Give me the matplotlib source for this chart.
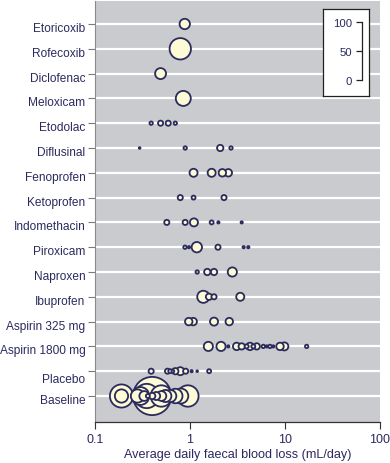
import matplotlib
matplotlib.use("Agg")
import matplotlib.pyplot as plt
from matplotlib.transforms import ScaledTranslation
import numpy as np

plt.rcParams['font.family'] = ['Liberation Sans', 'DejaVu Sans']

categories = ["Etoricoxib", "Rofecoxib", "Diclofenac", "Meloxicam", "Etodolac",
              "Diflusinal", "Fenoprofen", "Ketoprofen", "Indomethacin", "Piroxicam",
              "Naproxen", "Ibuprofen", "Aspirin 325 mg", "Aspirin 1800 mg",
              "Placebo", "Baseline"]

# blood loss (mL/day) per study and patient count (bubble size)
etoricoxib_v = [0.88];                 etoricoxib_n = [21]
rofecoxib_v = [0.79];                  rofecoxib_n = [40]
diclofenac_v = [0.49];                 diclofenac_n = [22]
meloxicam_v = [0.85];                  meloxicam_n = [29]
etodolac_v = [0.39, 0.49, 0.59, 0.70]; etodolac_n = [9, 12, 12, 9]
diflusinal_v = [0.295, 0.89, 2.08, 2.70]; diflusinal_n = [5, 9, 14, 9]
fenoprofen_v = [1.09, 1.69, 2.19, 2.53];  fenoprofen_n = [17, 17, 16, 16]
ketoprofen_v = [0.79, 1.09, 2.28];        ketoprofen_n = [12, 10, 12]
indomethacin_v = [0.57, 0.89, 1.10, 1.69, 1.99, 3.50]
indomethacin_n = [12, 12, 17, 10, 7, 7]
piroxicam_v = [0.885, 0.976, 1.18, 1.97, 3.67, 4.11]
piroxicam_n = [9, 7, 21, 12, 7, 7]
naproxen_v = [1.19, 1.52, 1.79, 2.79];    naproxen_n = [9, 14, 14, 19]
ibuprofen_v = [1.38, 1.585, 1.79, 3.38];  ibuprofen_n = [24, 14, 12, 17]
aspirin325_v = [0.97, 1.08, 1.79, 2.59];  aspirin325_n = [16, 16, 17, 16]
aspirin1800_v = [1.56, 2.12, 2.53, 3.10, 3.50, 3.95, 4.28, 4.64, 5.04, 5.91,
                 6.41, 6.95, 7.53, 8.86, 9.84, 16.9]
aspirin1800_n = [19, 19, 7, 16, 14, 10, 16, 10, 14, 9, 7, 9, 7, 16, 17, 9]
placebo_v = [0.39, 0.58, 0.62, 0.66, 0.70, 0.79, 0.90, 1.04, 1.19, 1.59]
placebo_n = [12, 12, 10, 8, 14, 17, 12, 7, 6, 10]
baseline_v = [0.19, 0.19, 0.40, 0.35, 0.50, 0.28, 0.30, 0.33, 0.36, 0.40, 0.44,
              0.50, 0.55, 0.62, 0.70, 0.80, 0.95]
baseline_n = [43, 26, 69, 45, 40, 26, 34, 20, 10, 14, 17, 20, 24, 24, 28, 29, 40]

values = [etoricoxib_v, rofecoxib_v, diclofenac_v, meloxicam_v, etodolac_v,
          diflusinal_v, fenoprofen_v, ketoprofen_v, indomethacin_v, piroxicam_v,
          naproxen_v, ibuprofen_v, aspirin325_v, aspirin1800_v, placebo_v, baseline_v]
counts = [etoricoxib_n, rofecoxib_n, diclofenac_n, meloxicam_n, etodolac_n,
          diflusinal_n, fenoprofen_n, ketoprofen_n, indomethacin_n, piroxicam_n,
          naproxen_n, ibuprofen_n, aspirin325_n, aspirin1800_n, placebo_n, baseline_n]

xticks = [0.1, 1, 10, 100]
xtick_labels = ["0.1", "1", "10", "100"]
scale_ticks = [0, 50, 100]

navy = "#2b2a5e"
fill = "#fdfbd6"
bg = "#c9cbcf"

fig = plt.figure(figsize=(3.9, 4.64), dpi=100)
W, H = 390, 464
ax = fig.add_axes([95 / W, 1 - 423 / H, 285 / W, 421 / H])
ax.set_facecolor(bg)
ax.set_xscale("log")
ax.set_xlim(0.1, 100)
ax.set_ylim(15 + 26 / 24.8, -23 / 24.8)

rows = np.arange(len(categories))
for r in rows:
    ax.axhline(r, color="white", lw=1.6, zorder=1)

PX = 72 / 100.0  # points per pixel
lw = 1.3
xs, ys, ss = [], [], []
for r, (vals, ns) in enumerate(zip(values, counts)):
    for v, n in zip(vals, ns):
        d_pt = max(n * 0.58 * PX - lw, 1.2)
        xs.append(v); ys.append(r); ss.append(d_pt ** 2)
order = np.argsort(ss)[::-1]
ax.scatter(np.array(xs)[order], np.array(ys)[order], s=np.array(ss)[order],
           facecolor=fill, edgecolor=navy, linewidth=lw, zorder=3)

ax.set_yticks(rows)
ax.set_yticklabels(categories)
ax.set_xticks(xticks)
ax.set_xticklabels(xtick_labels)
ax.xaxis.set_minor_locator(matplotlib.ticker.NullLocator())
ax.tick_params(axis="y", length=5, width=0.8, color="#7a7a7a", labelsize=8.6,
               labelcolor=navy, pad=2)
ax.tick_params(axis="x", length=5, width=0.8, color="#333333", labelsize=9,
               labelcolor=navy, pad=3)
offsets = {"Placebo": -6, "Baseline": -3}
for lab, name in zip(ax.get_yticklabels(), categories):
    dy = offsets.get(name, -2.5)
    lab.set_transform(lab.get_transform() + ScaledTranslation(0, dy / 100, fig.dpi_scale_trans))

for s in ["top", "right"]:
    ax.spines[s].set_visible(False)
ax.spines["left"].set_color("#8a8a8a")
ax.spines["left"].set_linewidth(0.8)
ax.spines["bottom"].set_color("#333333")
ax.spines["bottom"].set_linewidth(0.9)
ax.set_xlabel("Average daily faecal blood loss (mL/day)", fontsize=9.1,
              color=navy, labelpad=2)

# size scale box
box = fig.add_axes([323 / W, 1 - 97 / H, 46 / W, 87 / H])
box.set_xticks([]); box.set_yticks([])
box.set_facecolor("white")
for s in box.spines.values():
    s.set_color("#222222"); s.set_linewidth(0.9)
box.set_zorder(5)

sc = fig.add_axes([362 / W, 1 - 81 / H, 0.0001, 58 / H])
sc.set_zorder(6)
sc.patch.set_visible(False)
sc.set_ylim(0, 100)
sc.set_xticks([])
sc.set_yticks(scale_ticks)
sc.set_yticklabels([str(t) for t in scale_ticks])
for s in ["top", "bottom", "left"]:
    sc.spines[s].set_visible(False)
sc.spines["right"].set_color("#222222")
sc.spines["right"].set_linewidth(0.9)
sc.tick_params(axis="y", left=False, right=True, labelleft=True, labelright=False,
               direction="in", length=4, width=0.9, color="#222222",
               labelsize=8.2, labelcolor=navy, pad=7)

fig.savefig("out.png", dpi=100)
